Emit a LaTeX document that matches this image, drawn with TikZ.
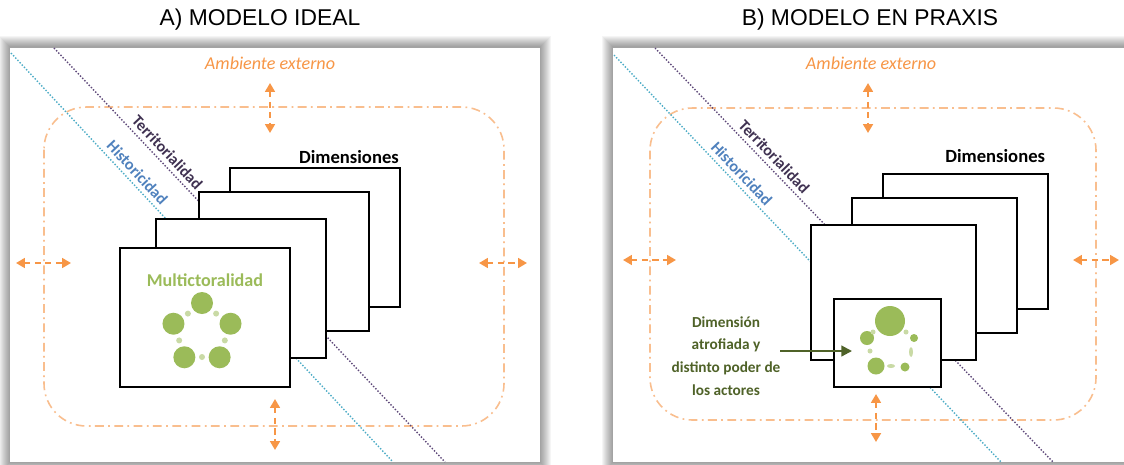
\documentclass[tikz,border=0pt]{standalone}
\usepackage{fontspec}
\setmainfont{Carlito}
\newfontfamily\titlefont{Liberation Sans}
\usetikzlibrary{positioning,arrows.meta,calc}

\definecolor{envorange}{HTML}{F79646}
\definecolor{envlight}{HTML}{F9BE8E}
\definecolor{actgreen}{HTML}{9BBB59}
\definecolor{actpale}{HTML}{C9DAA5}
\definecolor{annotgreen}{HTML}{4F6228}
\definecolor{histtext}{HTML}{4F81BD}
\definecolor{histline}{HTML}{4BACC6}
\definecolor{terrtext}{HTML}{3F3151}
\definecolor{terrline}{HTML}{5F497A}

\begin{document}
\begin{tikzpicture}[x=0.02cm, y=-0.02cm,
    paneltitle/.style={font=\titlefont\fontsize{13}{15}\selectfont},
    envframe/.style={draw=envlight, line width=0.9pt, rounded corners=0.85cm,
      dash pattern=on 5pt off 2.5pt on 1pt off 2.5pt},
    envarrow/.style={draw=envorange, line width=1.2pt, dash pattern=on 3.5pt off 2.5pt,
      {Triangle[length=5pt,width=5.5pt]}-{Triangle[length=5pt,width=5.5pt]}},
    envlabel/.style={text=envorange, font=\fontsize{10.3}{12}\selectfont\itshape},
    histpath/.style={draw=histline, line width=0.8pt, densely dotted},
    terrpath/.style={draw=terrline, line width=0.8pt, densely dotted},
    histlabel/.style={text=histtext, font=\bfseries\fontsize{9.2}{11}\selectfont, sloped, above=2.5pt, inner sep=0pt},
    terrlabel/.style={text=terrtext, font=\bfseries\fontsize{9.1}{11}\selectfont, sloped, above=2.5pt, inner sep=0pt},
    dimbox/.style={draw=black, fill=white, line width=1.1pt, anchor=north west,
      minimum width=3.4cm, minimum height=2.78cm, inner sep=0pt},
    dimlabel/.style={font=\bfseries\fontsize{10.6}{12}\selectfont, inner sep=0pt},
    actor/.style={circle, fill=actgreen, inner sep=0pt, minimum size=#1},
    actor/.default=0.44cm,
    link/.style={circle, fill=actpale, inner sep=0pt, minimum size=#1},
    link/.default=0.12cm,
    actlabel/.style={text=actgreen, font=\bfseries\fontsize{10.3}{12}\selectfont, inner sep=0pt},
    annot/.style={text=annotgreen, align=center, font=\bfseries\fontsize{8.7}{13}\selectfont},
    annotarrow/.style={draw=annotgreen, line width=1.2pt, -{Triangle[length=6pt,width=6pt]}}
  ]
  \clip (0,0) rectangle (1124,464);

  % panels with soft shadow
  \foreach \k in {1,...,11} {
    \fill[black, opacity=0.04] ({10-\k},{47-\k}) rectangle ({540+\k},{462+\k});
    \fill[black, opacity=0.04] ({613-\k},{47-\k}) rectangle ({1140+\k},{462+\k});
  }
  \fill[white] (10,48) rectangle (540,462);
  \fill[white] (613,48) rectangle (1140,462);

  \node[paneltitle] (titlea) at (260,20) {A) MODELO IDEAL};
  \node[paneltitle] (titleb) at (870,20) {B) MODELO EN PRAXIS};

  %% A) modelo ideal
  \node[envlabel] (enva) at (270,63) {Ambiente externo};
  \draw[envframe] (44,107) rectangle (504,426);
  \foreach \s/\t [count=\i] in {{270,83}/{270,133}, {16,263}/{71,263},
      {479,263}/{527,263}, {275,399}/{275,450}} {
    \coordinate (ea\i s) at (\s);
    \coordinate (ea\i t) at (\t);
    \draw[envarrow] (ea\i s) -- (ea\i t);
  }

  \coordinate (ha-s) at (11,53);  \coordinate (ha-e) at (393,462);
  \coordinate (ta-s) at (54,48);  \coordinate (ta-e) at (445,462);
  \draw[histpath] (ha-s) -- node[histlabel, pos=0.31] {Historicidad} (ha-e);
  \draw[terrpath] (ta-s) -- node[terrlabel, pos=0.27] {Territorialidad} (ta-e);

  \node[dimbox] (a4) at (229,167) {};
  \node[dimbox] (a3) at (198,191) {};
  \node[dimbox] (a2) at (155,218) {};
  \node[dimbox] (a1) at (119,247) {};
  \node[dimlabel, above left=2pt and 1pt of a4.north east] (dima) {Dimensiones};
  \node[actlabel, below=15pt of a1.north] (multi) {Multictoralidad};

  \coordinate (ring) at (202,333);
  \foreach \a [count=\i] in {-90,-162,-234,-306,-18}
    \node[actor] (act\i) at ($(ring)+(\a:30)$) {};
  \foreach \a [count=\i] in {-126,-198,-270,-342,-54}
    \node[link] (lnk\i) at ($(ring)+(\a:24)$) {};

  %% B) modelo en praxis
  \node[envlabel] (envb) at (871,63) {Ambiente externo};
  \draw[envframe] (650,108) rectangle (1096,420);
  \foreach \s/\t [count=\i] in {{868,83}/{868,133}, {623,260}/{676,260},
      {1073,260}/{1119,260}, {876,394}/{876,442}} {
    \coordinate (eb\i s) at (\s);
    \coordinate (eb\i t) at (\t);
    \draw[envarrow] (eb\i s) -- (eb\i t);
  }

  \coordinate (hb-s) at (614,55);  \coordinate (hb-e) at (1001,462);
  \coordinate (tb-s) at (655,48);  \coordinate (tb-e) at (1053,462);
  \draw[histpath] (hb-s) -- node[histlabel, pos=0.31] {Historicidad} (hb-e);
  \draw[terrpath] (tb-s) -- node[terrlabel, pos=0.28] {Territorialidad} (tb-e);

  \node[dimbox, minimum width=3.3cm, minimum height=2.7cm] (b4) at (882,173) {};
  \node[dimbox, minimum width=3.3cm, minimum height=2.7cm] (b3) at (851,197) {};
  \node[dimbox, minimum width=3.3cm, minimum height=2.7cm] (b2) at (810,224) {};
  \node[dimbox, minimum width=2.14cm, minimum height=1.76cm] (b1) at (833,298) {};
  \node[dimlabel, above left=5.5pt and 2pt of b4.north east] (dimb) {Dimensiones};

  \node[actor=0.6cm] (big) at (890,321) {};
  \node[actor=0.28cm] (weak1) at (867,338) {};
  \node[actor=0.16cm] (weak2) at (914,338) {};
  \node[actor=0.34cm] (weak3) at (876,366) {};
  \node[actor=0.18cm] (weak4) at (905,367) {};
  \node[link=0.1cm] (blnk1) at (873,332) {};
  \node[link=0.1cm] (blnk2) at (906,332) {};
  \node[link=0.1cm] (blnk3) at (870,351) {};
  \fill[actpale] (911,352) ellipse [x radius=2, y radius=5];
  \fill[actpale] (891,366) ellipse [x radius=4, y radius=2];

  \node[annot] (atrof) at (726,356) {Dimensión\\atrofiada y\\distinto poder de\\los actores};
  \coordinate (atrof-tail) at (780,351);
  \coordinate (atrof-tip) at (852,351);
  \draw[annotarrow] (atrof-tail) -- (atrof-tip);
\end{tikzpicture}
\end{document}
